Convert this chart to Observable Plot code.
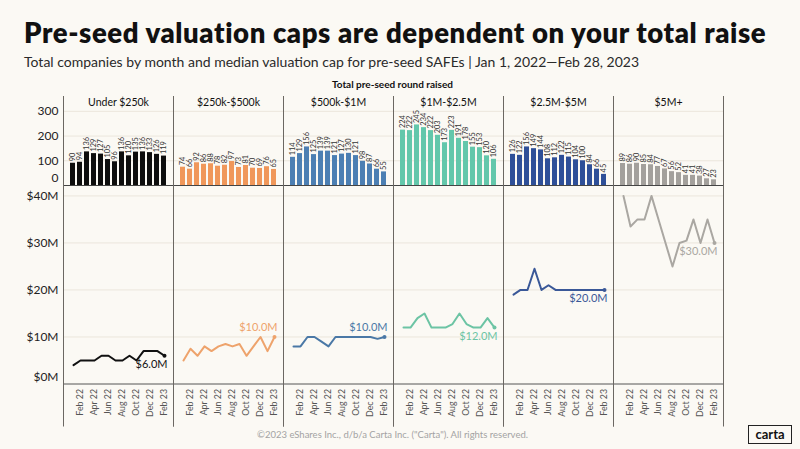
<!DOCTYPE html>
<html>
<head>
<meta charset="utf-8">
<script src="https://cdn.jsdelivr.net/npm/d3@7"></script>
<script src="https://cdn.jsdelivr.net/npm/@observablehq/plot@0.6"></script>
<style>
  body { margin: 0; background: #fbf9f4; width: 800px; height: 449px; overflow: hidden; position: relative; font-family: Lato, sans-serif; color: #111; }
  #title { position: absolute; left: 24px; top: 16px; font-size: 27.5px; font-weight: 800; letter-spacing: 0.6px; line-height: 1.2; white-space: nowrap; }
  #subtitle { position: absolute; left: 24px; top: 54px; font-size: 14px; font-weight: 400; line-height: 1.2; color: #2a2a2a; white-space: nowrap; }
  #fxlabel { position: absolute; left: 62px; width: 661px; text-align: center; top: 78px; font-size: 10px; font-weight: 700; line-height: 1.2; }
  #bars { position: absolute; left: 0; top: 90px; }
  #lines { position: absolute; left: 0; top: 186px; }
  #footer { position: absolute; left: 62px; width: 661px; text-align: center; top: 429px; font-size: 9.5px; color: #a3a3a3; line-height: 1.2; }
  #logo { position: absolute; left: 748px; top: 425px; width: 42px; height: 17px; border: 1.5px solid #222; font-size: 13px; font-weight: 700; text-align: center; line-height: 16px; color: #111; }
</style>
</head>
<body>
<div id="title">Pre-seed valuation caps are dependent on your total raise</div>
<div id="subtitle">Total companies by month and median valuation cap for pre-seed SAFEs | Jan 1, 2022—Feb 28, 2023</div>
<div id="fxlabel">Total pre-seed round raised</div>
<div id="bars"></div>
<div id="lines"></div>
<div id="footer">©2023 eShares Inc., d/b/a Carta Inc. ("Carta"). All rights reserved.</div>
<div id="logo">carta</div>
<script>
const months = ["Jan 22","Feb 22","Mar 22","Apr 22","May 22","Jun 22","Jul 22","Aug 22","Sep 22","Oct 22","Nov 22","Dec 22","Jan 23","Feb 23"];
const categories = ["Under $250k","$250k-$500k","$500k-$1M","$1M-$2.5M","$2.5M-$5M","$5M+"];

// Total companies by month
const countsUnder250k = [90, 94, 136, 129, 127, 105, 96, 136, 120, 135, 136, 133, 126, 119];
const counts250kTo500k = [74, 66, 92, 86, 88, 78, 82, 97, 73, 81, 70, 69, 76, 65];
const counts500kTo1M = [114, 129, 156, 125, 139, 139, 121, 127, 130, 121, 98, 87, 66, 55];
const counts1MTo2_5M = [224, 222, 245, 234, 222, 203, 173, 223, 191, 178, 155, 153, 120, 106];
const counts2_5MTo5M = [126, 122, 156, 149, 144, 108, 112, 122, 115, 104, 100, 84, 66, 45];
const counts5MPlus = [89, 86, 90, 85, 84, 77, 67, 56, 52, 41, 41, 38, 27, 23];

// Median valuation cap ($M)
const capUnder250k = [4, 5, 5, 5, 6, 6, 5, 5, 6, 5, 7, 7, 7, 6];
const cap250kTo500k = [5, 7.5, 6, 8, 7, 8, 8.5, 8, 8.5, 6, 8, 10, 7, 10];
const cap500kTo1M = [8, 8, 10, 10, 9, 8, 10, 10, 10, 10, 10, 10, 9.6, 10];
const cap1MTo2_5M = [12, 12, 14, 15, 12, 12, 12, 12.75, 15, 12.75, 12, 12, 14, 12];
const cap2_5MTo5M = [19, 20, 20, 24.5, 20, 21, 20, 20, 20, 20, 20, 20, 20, 20];
const cap5MPlus = [40, 33.5, 35, 35, 40, 35, 30, 25, 30, 30.5, 35, 30, 35, 30];

const countTicks = [100, 200, 300];
const capTicks = [10, 20, 30, 40];
const xTicks = ["Feb 22","Apr 22","Jun 22","Aug 22","Oct 22","Dec 22","Feb 23"];

const barColors = ["#0d0d0d", "#f0975a", "#4c7fb3", "#63c7ab", "#2e4f98", "#a3a09c"];
const lineColors = ["#111111", "#eea36c", "#4a78a6", "#6cc4a4", "#3a5898", "#aaa7a2"];
const labelsAbove = ["$250k-$500k", "$500k-$1M"];

const countSeries = [countsUnder250k, counts250kTo500k, counts500kTo1M, counts1MTo2_5M, counts2_5MTo5M, counts5MPlus];
const capSeries = [capUnder250k, cap250kTo500k, cap500kTo1M, cap1MTo2_5M, cap2_5MTo5M, cap5MPlus];

const rows = categories.flatMap((c, k) => months.map((m, i) => ({category: c, month: m, count: countSeries[k][i], cap: capSeries[k][i]})));
const last = rows.filter(d => d.month === months[months.length - 1]);
const fmtCap = d => `$${d.cap.toFixed(1)}M`;

const common = {
  width: 800, marginLeft: 62, marginRight: 77,
  style: {background: "transparent", overflow: "visible", fontFamily: "Lato, sans-serif", fontSize: "12px", color: "#222"}
};
const xScale = {domain: months, paddingInner: 0.22, paddingOuter: 0.1, axis: null};
const fxScale = {domain: categories, padding: 0, axis: null};
const divider = "#6b6762";
const grid = "#ebe6dc";

const bars = Plot.plot({
  ...common,
  height: 100, marginTop: 6, marginBottom: 5,
  fx: fxScale,
  x: xScale,
  y: {domain: [0, 360], axis: null},
  color: {domain: categories, range: barColors},
  marks: [
    Plot.gridY(countTicks, {stroke: grid, strokeOpacity: 1}),
    Plot.axisY(countTicks, {tickSize: 0, tickPadding: 5, label: null, fontSize: 12}),
    Plot.axisY([0], {tickSize: 0, tickPadding: 5, label: null, fontSize: 12, dy: -7}),
    Plot.barY(rows, {fx: "category", x: "month", y: "count", fill: "category"}),
    Plot.text(rows, {fx: "category", x: "month", y: "count", text: "count", rotate: -90, textAnchor: "start", dy: -2, fontSize: 7.4, fill: "#333"}),
    Plot.text(categories, {fx: d => d, text: d => d, frameAnchor: "top", lineAnchor: "middle", dy: 6.5, fontSize: 10.5, fill: "#111"}),
    Plot.ruleY([0], {stroke: "#444"}),
    Plot.frame({anchor: "left", stroke: divider}),
    Plot.frame({anchor: "right", stroke: divider})
  ]
});
document.getElementById("bars").append(bars);

const lines = Plot.plot({
  ...common,
  height: 240, marginTop: 0, marginBottom: 42.5,
  fx: fxScale,
  x: xScale,
  y: {domain: [0, 42], axis: null},
  color: {domain: categories, range: lineColors},
  marks: [
    Plot.gridY(capTicks, {stroke: grid, strokeOpacity: 1}),
    Plot.axisY(capTicks, {tickSize: 0, tickPadding: 5, label: null, fontSize: 12, tickFormat: d => `$${d}M`}),
    Plot.axisY([0], {tickSize: 0, tickPadding: 5, label: null, fontSize: 12, dy: -7, tickFormat: d => `$${d}M`}),
    Plot.axisX(xTicks, {tickSize: 0, tickPadding: 5, tickRotate: -90, label: null, fontSize: 8.8, fill: "#555"}),
    Plot.ruleY([0], {stroke: "#555"}),
    Plot.line(rows, {fx: "category", x: "month", y: "cap", stroke: "category", strokeWidth: 2}),
    Plot.dot(last, {fx: "category", x: "month", y: "cap", fill: "category", r: 2}),
    Plot.text(last.filter(d => labelsAbove.includes(d.category)), {fx: "category", x: "month", y: "cap", text: fmtCap, fill: "category", textAnchor: "end", dx: 3, dy: -9.5, fontSize: 11}),
    Plot.text(last.filter(d => !labelsAbove.includes(d.category)), {fx: "category", x: "month", y: "cap", text: fmtCap, fill: "category", textAnchor: "end", dx: 3, dy: 9, fontSize: 11}),
    Plot.frame({anchor: "left", stroke: divider, insetBottom: -42}),
    Plot.frame({anchor: "right", stroke: divider, insetBottom: -42})
  ]
});
document.getElementById("lines").append(lines);
</script>
</body>
</html>
